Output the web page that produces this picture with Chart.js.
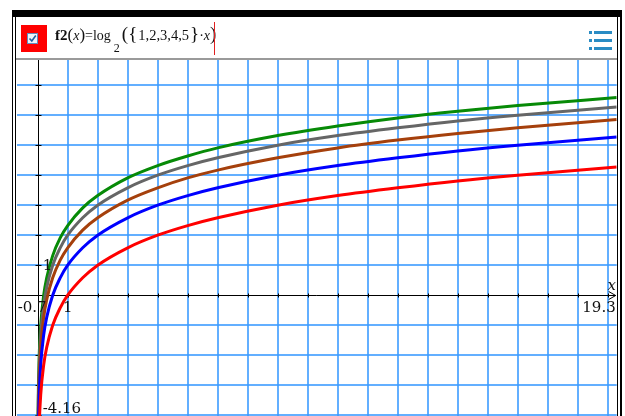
<!DOCTYPE html>
<html>
<head>
<meta charset="utf-8">
<script src="https://cdn.jsdelivr.net/npm/chart.js@4.4.1/dist/chart.umd.min.js"></script>
<style>
  body { margin: 0; width: 625px; height: 416px; overflow: hidden; position: relative; background: #fff; }
  .abs { position: absolute; }
  #formula { left: 55px; top: 24px; font-family: "Liberation Serif", serif; font-size: 14px; white-space: nowrap; color: #111; line-height: 20px; }
  #formula .p { font-size: 17px; }
  #formula .bp { font-size: 19px; }
  #formula .num { font-size: 14.5px; margin: 0 1px 0 1px; }
  #formula sub { font-size: 12px; position: relative; top: 12px; vertical-align: baseline; margin: 0 2px 0 3px; }
  .menu-dot { width: 3px; height: 3px; background: #2a8cc4; }
  .menu-bar { width: 18px; height: 3px; background: #2a8cc4; }
</style>
</head>
<body>
<canvas id="graph" width="625" height="430" class="abs" style="left:0;top:0"></canvas>

<!-- frame and entry line -->
<div class="abs" style="left:12px;top:10px;width:610px;height:7px;background:#000"></div>
<div class="abs" style="left:12px;top:10px;width:1px;height:406px;background:#000"></div>
<div class="abs" style="left:15px;top:17px;width:1px;height:399px;background:#000"></div>
<div class="abs" style="left:617px;top:17px;width:1px;height:399px;background:#000"></div>
<div class="abs" style="left:620px;top:10px;width:2px;height:406px;background:#000"></div>
<div class="abs" style="left:16px;top:58px;width:601px;height:2px;background:#9a9a9a"></div>

<div class="abs" style="left:21px;top:25px;width:26px;height:27px;background:#ff0000"></div>
<div class="abs" style="left:27px;top:33px;width:9px;height:9px;background:#eef4fa;border:1px solid #5f8fbf">
  <svg width="9" height="9" style="position:absolute;left:0;top:0"><path d="M1.5 4.5 L3.8 7 L7.8 1.5" stroke="#1f5f9f" stroke-width="1.6" fill="none"/></svg>
</div>
<div id="formula" class="abs"><b style="font-size:15px">f2</b><span class="p">(</span><i>x</i><span class="p">)</span>=log<sub>2</sub><span class="bp">(</span><span class="bp">{</span><span class="num">1,2,3,4,5</span><span class="bp">}</span>·<i>x</i><span class="bp">)</span></div>
<div class="abs" style="left:214px;top:22px;width:1px;height:33px;background:#e02020"></div>

<div class="abs menu-dot" style="left:589px;top:31px"></div>
<div class="abs menu-bar" style="left:594px;top:31px"></div>
<div class="abs menu-dot" style="left:589px;top:39px"></div>
<div class="abs menu-bar" style="left:594px;top:39px"></div>
<div class="abs menu-dot" style="left:589px;top:47px"></div>
<div class="abs menu-bar" style="left:594px;top:47px"></div>

<script>
// window settings
const xMin = -0.7, xMax = 19.3;
const yMin = -4.16, yMax = 7.84;
const xGrid = [0, 1, 2, 3, 4, 5, 6, 7, 8, 9, 10, 11, 12, 13, 14, 15, 16, 17, 18, 19];
const yGrid = [-4, -3, -2, -1, 0, 1, 2, 3, 4, 5, 6, 7];

const xValues = [0.01, 0.0125, 0.017, 0.025, 0.05, 0.1, 0.2, 0.3, 0.5, 0.75, 1, 1.5, 2, 3, 4, 5, 6, 8, 10, 12, 14, 16, 19.3];
const red   = [-6.64, -6.32, -5.88, -5.32, -4.32, -3.32, -2.32, -1.74, -1.00, -0.42, 0, 0.58, 1, 1.58, 2, 2.32, 2.58, 3, 3.32, 3.58, 3.81, 4, 4.27];
const blue  = [-5.64, -5.32, -4.88, -4.32, -3.32, -2.32, -1.32, -0.74, 0, 0.58, 1, 1.58, 2, 2.58, 3, 3.32, 3.58, 4, 4.32, 4.58, 4.81, 5, 5.27];
const brown = [-5.06, -4.74, -4.30, -3.74, -2.74, -1.74, -0.74, -0.15, 0.58, 1.17, 1.58, 2.17, 2.58, 3.17, 3.58, 3.91, 4.17, 4.58, 4.91, 5.17, 5.39, 5.58, 5.86];
const gray  = [-4.64, -4.32, -3.88, -3.32, -2.32, -1.32, -0.32, 0.26, 1, 1.58, 2, 2.58, 3, 3.58, 4, 4.32, 4.58, 5, 5.32, 5.58, 5.81, 6, 6.27];
const green = [-4.32, -4.00, -3.56, -3.00, -2.00, -1.00, 0, 0.58, 1.32, 1.91, 2.32, 2.91, 3.32, 3.91, 4.32, 4.64, 4.91, 5.32, 5.64, 5.91, 6.13, 6.32, 6.59];

// labels shown on the axes
const xMinLabel = "-0.7", xMaxLabel = "19.3", xOneLabel = "1";
const yMinLabel = "-4.16", yOneLabel = "1";
const xAxisName = "x";

function toPoints(ys) {
  return xValues.map((x, i) => ({ x: x, y: ys[i] }));
}

function curve(ys, color) {
  return {
    data: toPoints(ys),
    borderColor: color,
    borderWidth: 3,
    pointRadius: 0,
    cubicInterpolationMode: "monotone",
    fill: false
  };
}

// axes, tick marks and labels drawn over the grid
const axesPlugin = {
  id: "axes",
  beforeDatasetsDraw(chart) {
    const { ctx, chartArea: a, scales: { x, y } } = chart;
    const px0 = Math.round(x.getPixelForValue(0)) + 0.5;
    const py0 = Math.round(y.getPixelForValue(0)) + 0.5;
    ctx.save();
    ctx.strokeStyle = "#000";
    ctx.lineWidth = 1;
    ctx.beginPath();
    ctx.moveTo(a.left, py0);
    ctx.lineTo(a.right - 1, py0);
    ctx.moveTo(px0, a.top);
    ctx.lineTo(px0, a.bottom);
    xGrid.forEach(v => {
      const p = Math.round(x.getPixelForValue(v)) + 0.5;
      ctx.moveTo(p, py0 - 2);
      ctx.lineTo(p, py0 + 2);
    });
    yGrid.forEach(v => {
      const p = Math.round(y.getPixelForValue(v)) + 0.5;
      ctx.moveTo(px0 - 3, p);
      ctx.lineTo(px0 + 3, p);
    });
    ctx.stroke();
    // arrow at the end of the x axis
    ctx.beginPath();
    ctx.moveTo(a.right - 8, py0 - 4);
    ctx.lineTo(a.right - 1, py0);
    ctx.lineTo(a.right - 8, py0 + 4);
    ctx.stroke();
    ctx.restore();
  },
  afterDatasetsDraw(chart) {
    const { ctx, chartArea: a, scales: { x, y } } = chart;
    const px0 = x.getPixelForValue(0);
    const py0 = y.getPixelForValue(0);
    ctx.save();
    ctx.fillStyle = "#111";
    ctx.font = '15px "DejaVu Serif"';
    ctx.textBaseline = "middle";

    ctx.textAlign = "left";
    ctx.fillText(xMinLabel, a.left + 1, py0 + 13);
    ctx.fillText(yOneLabel, px0 + 5, y.getPixelForValue(1) + 1);
    ctx.fillText(yMinLabel, px0 + 5, a.bottom - 11);

    ctx.textAlign = "center";
    ctx.fillText(xOneLabel, x.getPixelForValue(1), py0 + 13);

    ctx.textAlign = "right";
    ctx.fillText(xMaxLabel, a.right - 1, py0 + 13);

    ctx.font = 'italic 15px "DejaVu Serif"';
    ctx.textAlign = "center";
    ctx.fillText(xAxisName, a.right - 5, py0 - 9);
    ctx.restore();
  }
};

const gridColor = "rgba(60, 155, 255, 0.8)";

new Chart(document.getElementById("graph"), {
  type: "line",
  data: {
    datasets: [
      curve(red, "#ff0000"),
      curve(blue, "#0000ff"),
      curve(brown, "#a5400c"),
      curve(gray, "#666666"),
      curve(green, "#078a07")
    ]
  },
  options: {
    responsive: false,
    animation: false,
    events: [],
    layout: { padding: { left: 16.7, right: 8.3, top: 60, bottom: 10 } },
    plugins: { legend: { display: false }, tooltip: { enabled: false } },
    scales: {
      x: {
        type: "linear",
        min: xMin,
        max: xMax,
        afterBuildTicks: scale => { scale.ticks = xGrid.map(v => ({ value: v })); },
        afterFit: scale => { scale.height = 0; },
        ticks: { display: false },
        border: { display: false },
        grid: {
          drawTicks: false,
          lineWidth: 2,
          color: c => (c.tick && c.tick.value === 0 ? "rgba(0,0,0,0)" : gridColor)
        }
      },
      y: {
        type: "linear",
        min: yMin,
        max: yMax,
        afterBuildTicks: scale => { scale.ticks = yGrid.map(v => ({ value: v })); },
        afterFit: scale => { scale.width = 0; },
        ticks: { display: false },
        border: { display: false },
        grid: {
          drawTicks: false,
          lineWidth: 2,
          color: c => (c.tick && c.tick.value === 0 ? "rgba(0,0,0,0)" : gridColor)
        }
      }
    }
  },
  plugins: [axesPlugin]
});
</script>
</body>
</html>
